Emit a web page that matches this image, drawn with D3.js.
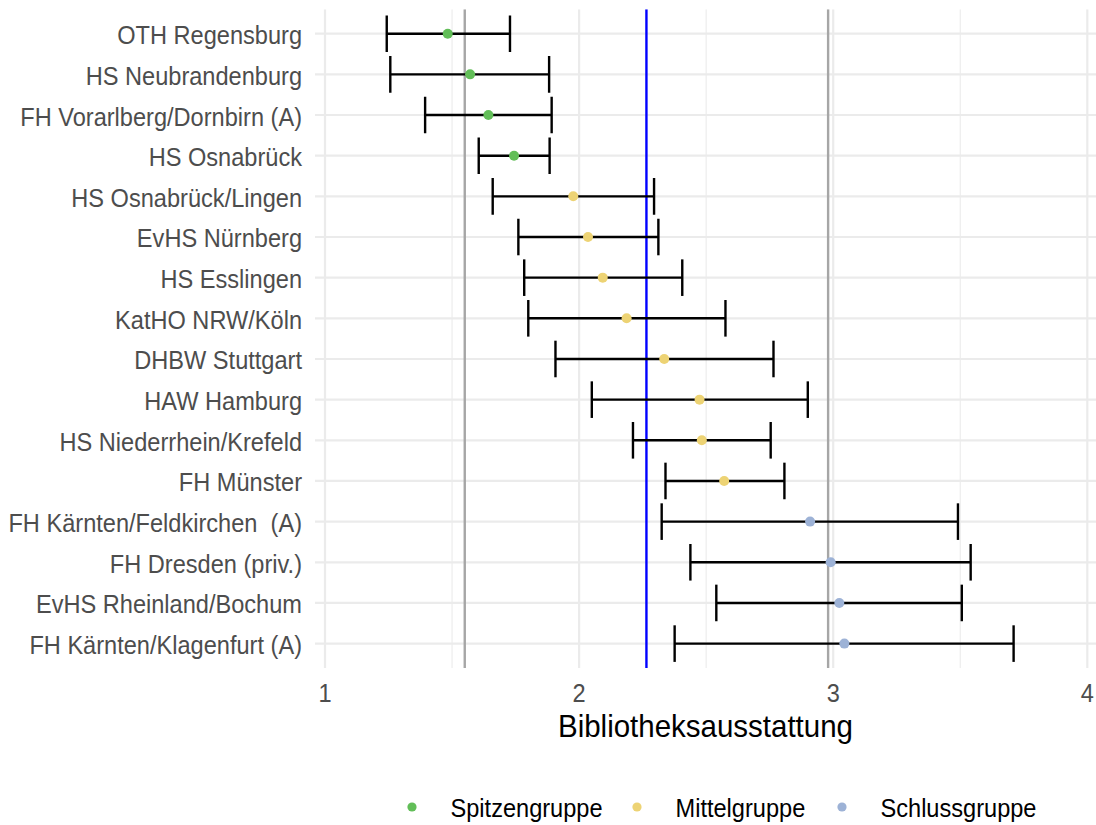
<!DOCTYPE html>
<html>
<head>
<meta charset="utf-8">
<script src="https://cdn.jsdelivr.net/npm/d3@7"></script>
<style>
  html, body { margin: 0; padding: 0; background: #fff; }
  svg text { font-family: "Liberation Sans", Arial, sans-serif; white-space: pre; }
</style>
</head>
<body>
<svg id="chart" width="1096" height="825"></svg>
<script>
// ---- data ----
const categories = [
  "OTH Regensburg",
  "HS Neubrandenburg",
  "FH Vorarlberg/Dornbirn (A)",
  "HS Osnabrück",
  "HS Osnabrück/Lingen",
  "EvHS Nürnberg",
  "HS Esslingen",
  "KatHO NRW/Köln",
  "DHBW Stuttgart",
  "HAW Hamburg",
  "HS Niederrhein/Krefeld",
  "FH Münster",
  "FH Kärnten/Feldkirchen  (A)",
  "FH Dresden (priv.)",
  "EvHS Rheinland/Bochum",
  "FH Kärnten/Klagenfurt (A)"
];
const means = [1.483, 1.571, 1.643, 1.744, 1.977, 2.035, 2.093, 2.187, 2.335, 2.474, 2.483, 2.571, 2.909, 2.990, 3.024, 3.044];
const lower = [1.243, 1.257, 1.394, 1.605, 1.660, 1.761, 1.784, 1.800, 1.907, 2.050, 2.212, 2.340, 2.325, 2.438, 2.540, 2.376];
const upper = [1.728, 1.882, 1.892, 1.884, 2.295, 2.312, 2.406, 2.576, 2.765, 2.900, 2.754, 2.808, 3.491, 3.541, 3.506, 3.710];
const groups = ["Spitzengruppe","Spitzengruppe","Spitzengruppe","Spitzengruppe",
  "Mittelgruppe","Mittelgruppe","Mittelgruppe","Mittelgruppe","Mittelgruppe","Mittelgruppe","Mittelgruppe","Mittelgruppe",
  "Schlussgruppe","Schlussgruppe","Schlussgruppe","Schlussgruppe"];
const groupNames = ["Spitzengruppe", "Mittelgruppe", "Schlussgruppe"];
const groupColors = ["#62BE58", "#EDD374", "#9DB2D6"];
const xTicks = [1, 2, 3, 4];
const xMinorTicks = [1.5, 2.5, 3.5];
const grayLines = [1.55, 2.98];
const blueLine = [2.265];
const xTitle = "Bibliotheksausstattung";

// ---- layout ----
const svg = d3.select("#chart");
const panel = { left: 315, right: 1096, top: 9.3, bottom: 668 };
const x = d3.scaleLinear().domain([1, 4]).range([325, 1087.3]);
const y = d3.scalePoint().domain(categories)
  .range([panel.top, panel.bottom]).padding(0.6);
const step = y.step();
const color = d3.scaleOrdinal().domain(groupNames).range(groupColors);
const TS = 1.06; // vertical text stretch

const data = categories.map((c, i) => ({ c, m: means[i], lo: lower[i], hi: upper[i], g: groups[i] }));

svg.append("defs").append("clipPath").attr("id", "pclip")
  .append("rect").attr("x", panel.left).attr("y", panel.top)
  .attr("width", panel.right - panel.left).attr("height", panel.bottom - panel.top);

const g = svg.append("g").attr("clip-path", "url(#pclip)");

// grid
g.selectAll(".minor").data(xMinorTicks).join("line")
  .attr("x1", d => x(d)).attr("x2", d => x(d))
  .attr("y1", panel.top).attr("y2", panel.bottom)
  .attr("stroke", "#EBEBEB").attr("stroke-width", 1.1);
g.selectAll(".major").data(xTicks).join("line")
  .attr("x1", d => x(d)).attr("x2", d => x(d))
  .attr("y1", panel.top).attr("y2", panel.bottom)
  .attr("stroke", "#EBEBEB").attr("stroke-width", 2.2);
g.selectAll(".hgrid").data(categories).join("line")
  .attr("x1", panel.left).attr("x2", panel.right)
  .attr("y1", d => y(d)).attr("y2", d => y(d))
  .attr("stroke", "#EBEBEB").attr("stroke-width", 2.2);

// reference lines
g.selectAll(".gray").data(grayLines).join("line")
  .attr("x1", d => x(d)).attr("x2", d => x(d))
  .attr("y1", panel.top).attr("y2", panel.bottom)
  .attr("stroke", "#A6A6A6").attr("stroke-width", 2.4);
g.selectAll(".blue").data(blueLine).join("line")
  .attr("x1", d => x(d)).attr("x2", d => x(d))
  .attr("y1", panel.top).attr("y2", panel.bottom)
  .attr("stroke", "#0000FF").attr("stroke-width", 2.4);

// error bars
const capH = step * 0.9 / 2;
const eb = g.selectAll(".eb").data(data).join("g").attr("stroke", "#000").attr("stroke-width", 2.4);
eb.append("line").attr("x1", d => x(d.lo)).attr("x2", d => x(d.hi))
  .attr("y1", d => y(d.c)).attr("y2", d => y(d.c));
eb.append("line").attr("x1", d => x(d.lo)).attr("x2", d => x(d.lo))
  .attr("y1", d => y(d.c) - capH).attr("y2", d => y(d.c) + capH);
eb.append("line").attr("x1", d => x(d.hi)).attr("x2", d => x(d.hi))
  .attr("y1", d => y(d.c) - capH).attr("y2", d => y(d.c) + capH);

// points
g.selectAll(".pt").data(data).join("circle")
  .attr("cx", d => x(d.m)).attr("cy", d => y(d.c)).attr("r", 5)
  .attr("fill", d => color(d.g));

// y axis labels
svg.append("g").selectAll("text").data(categories).join("text")
  .attr("transform", d => `translate(302,${y(d) + 10.5}) scale(1,${TS})`)
  .attr("text-anchor", "end").attr("font-size", 23.6).attr("fill", "#4D4D4D")
  .text(d => d);

// x axis labels
svg.append("g").selectAll("text").data(xTicks).join("text")
  .attr("transform", d => `translate(${x(d)},701.7) scale(1,${TS})`)
  .attr("text-anchor", "middle").attr("font-size", 23.6).attr("fill", "#4D4D4D")
  .text(d => d);

// x title
svg.append("text")
  .attr("transform", `translate(${(panel.left + panel.right) / 2},736.5) scale(1,${TS})`)
  .attr("text-anchor", "middle").attr("font-size", 29.5).attr("fill", "#000")
  .text(xTitle);

// legend
const legX = [412, 637, 842];
const leg = svg.append("g").selectAll("g").data(groupNames).join("g")
  .attr("transform", (d, i) => `translate(${legX[i]},807)`);
leg.append("circle").attr("r", 4.6).attr("fill", d => color(d));
leg.append("text").attr("transform", `translate(38.5,9.5) scale(1,${TS})`)
  .attr("font-size", 23.6).attr("fill", "#000").text(d => d);
</script>
</body>
</html>
